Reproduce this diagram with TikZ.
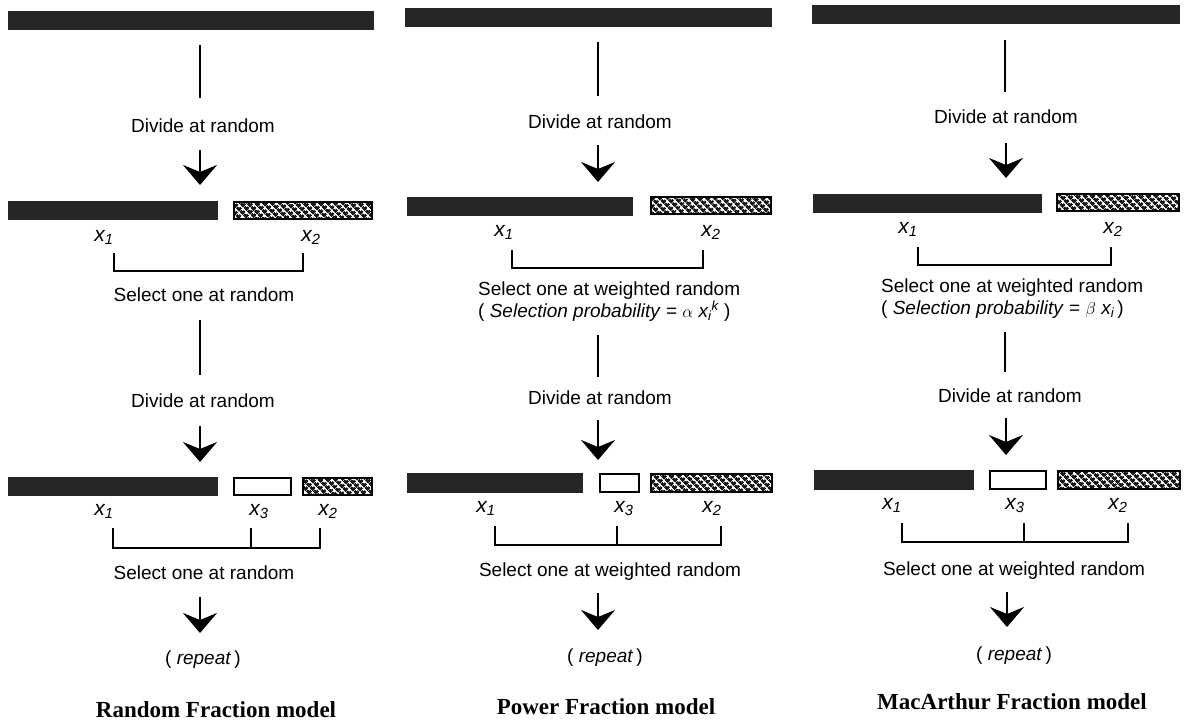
\documentclass[tikz,border=0pt]{standalone}
\usepackage{fontspec}
\setmainfont{Liberation Serif}
\setsansfont{Liberation Sans}
\usepackage{tikz}
\usetikzlibrary{arrows.meta,patterns.meta,positioning}

\tikzdeclarepattern{
  name=mesh,
  type=uncolored,
  bounding box={(0,0) and (5pt,5pt)},
  tile size={(5pt,5pt)},
  tile transformation={rotate=45},
  code={
    \fill (0,0) rectangle (5pt,2.8pt) (0,0) rectangle (2.8pt,5pt);
  }
}

\begin{document}
\begin{tikzpicture}[x=1pt, y=-1pt,
                    darkbar/.style={fill=black!85, inner sep=0pt, outer sep=0pt},
                    meshbar/.style={draw, line width=1.6pt, pattern=mesh, pattern color=black!90, inner sep=0pt},
                    openbar/.style={draw, line width=1.6pt, fill=white, inner sep=0pt},
                    link/.style={line width=1.8pt},
                    bigarrow/.style={line width=2.6pt, -{Stealth[length=20pt,width=34pt,inset=7pt]}},
                    txt/.style={font=\sffamily\fontsize{19}{22}\selectfont, anchor=base, inner sep=0pt},
                    var/.style={font=\sffamily\itshape\fontsize{21}{24}\selectfont, anchor=base, inner sep=0pt},
                    title/.style={font=\rmfamily\bfseries\fontsize{23}{26}\selectfont, anchor=base, inner sep=0pt},
                   ]

\fill[white] (0,0) rectangle (1190,724);
\useasboundingbox (0,0) rectangle (1190,724);

% Random Fraction model
\node[darkbar, minimum width=366, minimum height=19] (top1) at (191,20.5) {};
\coordinate (l1a) at (200,45);
\coordinate (l1b) at (200,98);
\draw[link] (l1a) -- (l1b);
\node[txt] (div11) at (203,132) {Divide at random};
\coordinate (a1a) at (200,150);
\coordinate (a1b) at (200,185);
\draw[bigarrow] (a1a) -- (a1b);

\node[darkbar, minimum width=210, minimum height=19] (p11) at (113,210.5) {};
\node[meshbar, minimum width=138.4, minimum height=17.4] (p12) at (303,210.5) {};
\node[var] (x11) at (104,241) {x\textsubscript{1}};
\node[var] (x12) at (311,241) {x\textsubscript{2}};
\draw[link] (114,253) -- (114,271) -- (303,271) -- (303,253);
\node[txt] (sel11) at (204,301) {Select one at random};

\coordinate (l2a) at (200,320);
\coordinate (l2b) at (200,375);
\draw[link] (l2a) -- (l2b);
\node[txt] (div12) at (203,407) {Divide at random};
\coordinate (a2a) at (200,426);
\coordinate (a2b) at (200,462);
\draw[bigarrow] (a2a) -- (a2b);

\node[darkbar, minimum width=210, minimum height=19] (q11) at (113,486.5) {};
\node[openbar, minimum width=57.4, minimum height=17.4] (q13) at (262.5,486.5) {};
\node[meshbar, minimum width=69.4, minimum height=17.4] (q12) at (337.5,486.5) {};
\node[var] (y11) at (104,515) {x\textsubscript{1}};
\node[var] (y13) at (259,515) {x\textsubscript{3}};
\node[var] (y12) at (328,515) {x\textsubscript{2}};
\draw[link] (113,528) -- (113,548) -- (320,548) -- (320,528);
\draw[link] (251,528) -- (251,548);
\node[txt] (sel12) at (204,579) {Select one at random};
\coordinate (a3a) at (200,597);
\coordinate (a3b) at (200,633);
\draw[bigarrow] (a3a) -- (a3b);
\node[txt] (rep1) at (203,664) {( \textit{repeat}\,)};
\node[title] (name1) at (216,717) {Random Fraction model};

% Power Fraction model
\node[darkbar, minimum width=367, minimum height=19] (top2) at (588.5,17.5) {};
\coordinate (m1a) at (598,42);
\coordinate (m1b) at (598,96);
\draw[link] (m1a) -- (m1b);
\node[txt] (div21) at (600,128) {Divide at random};
\coordinate (b1a) at (598,145);
\coordinate (b1b) at (598,182);
\draw[bigarrow] (b1a) -- (b1b);

\node[darkbar, minimum width=226, minimum height=19] (p21) at (520,206.5) {};
\node[meshbar, minimum width=120.4, minimum height=17.4] (p22) at (711,205.5) {};
\node[var] (x21) at (504,236) {x\textsubscript{1}};
\node[var] (x22) at (711,236) {x\textsubscript{2}};
\draw[link] (512,250) -- (512,268) -- (703,268) -- (703,250);
\node[txt, anchor=base west] (sel21) at (478,295) {Select one at weighted random};
\node[txt, anchor=base west] (prob2) at (478,317) {( \textit{Selection probability} = $\alpha$ \textit{x\textsubscript{i}\textsuperscript{k}} )};

\coordinate (m2a) at (598,335);
\coordinate (m2b) at (598,377);
\draw[link] (m2a) -- (m2b);
\node[txt] (div22) at (600,404) {Divide at random};
\coordinate (b2a) at (598,420);
\coordinate (b2b) at (598,460);
\draw[bigarrow] (b2a) -- (b2b);

\node[darkbar, minimum width=176, minimum height=20] (q21) at (495,483) {};
\node[openbar, minimum width=39.4, minimum height=18.4] (q23) at (619.5,483) {};
\node[meshbar, minimum width=121.4, minimum height=18.4] (q22) at (711.5,483) {};
\node[var] (y21) at (486,512) {x\textsubscript{1}};
\node[var] (y23) at (624,512) {x\textsubscript{3}};
\node[var] (y22) at (712,512) {x\textsubscript{2}};
\draw[link] (495,526) -- (495,545) -- (721,545) -- (721,526);
\draw[link] (617,526) -- (617,545);
\node[txt] (sel22) at (610,576) {Select one at weighted random};
\coordinate (b3a) at (598,593);
\coordinate (b3b) at (598,630);
\draw[bigarrow] (b3a) -- (b3b);
\node[txt] (rep2) at (605,662) {( \textit{repeat}\,)};
\node[title] (name2) at (606,714) {Power Fraction model};

% MacArthur Fraction model
\node[darkbar, minimum width=368, minimum height=19] (top3) at (996,14.5) {};
\coordinate (n1a) at (1005,40);
\coordinate (n1b) at (1005,92);
\draw[link] (n1a) -- (n1b);
\node[txt] (div31) at (1006,123) {Divide at random};
\coordinate (c1a) at (1006,143);
\coordinate (c1b) at (1006,178);
\draw[bigarrow] (c1a) -- (c1b);

\node[darkbar, minimum width=229, minimum height=19] (p31) at (927.5,203.5) {};
\node[meshbar, minimum width=122.4, minimum height=17.4] (p32) at (1118,202.5) {};
\node[var] (x31) at (908,233) {x\textsubscript{1}};
\node[var] (x32) at (1113,233) {x\textsubscript{2}};
\draw[link] (918,247) -- (918,265) -- (1111,265) -- (1111,247);
\node[txt, anchor=base west] (sel31) at (881,292) {Select one at weighted random};
\node[txt, anchor=base west] (prob3) at (881,314) {( \textit{Selection probability} = $\beta$ \textit{x\textsubscript{i}}\,)};

\coordinate (n2a) at (1005,332);
\coordinate (n2b) at (1005,372);
\draw[link] (n2a) -- (n2b);
\node[txt] (div32) at (1010,402) {Divide at random};
\coordinate (c2a) at (1006,418);
\coordinate (c2b) at (1006,455);
\draw[bigarrow] (c2a) -- (c2b);

\node[darkbar, minimum width=160, minimum height=20] (q31) at (894,480) {};
\node[openbar, minimum width=56.4, minimum height=18.4] (q33) at (1018,480) {};
\node[meshbar, minimum width=122.4, minimum height=18.4] (q32) at (1119,480) {};
\node[var] (y31) at (892,509) {x\textsubscript{1}};
\node[var] (y33) at (1015,509) {x\textsubscript{3}};
\node[var] (y32) at (1118,509) {x\textsubscript{2}};
\draw[link] (902,523) -- (902,542) -- (1128,542) -- (1128,523);
\draw[link] (1024,523) -- (1024,542);
\node[txt] (sel32) at (1014,575) {Select one at weighted random};
\coordinate (c3a) at (1007,592);
\coordinate (c3b) at (1007,627);
\draw[bigarrow] (c3a) -- (c3b);
\node[txt] (rep3) at (1014,660) {( \textit{repeat}\,)};
\node[title] (name3) at (1012,709) {MacArthur Fraction model};

\end{tikzpicture}
\end{document}
